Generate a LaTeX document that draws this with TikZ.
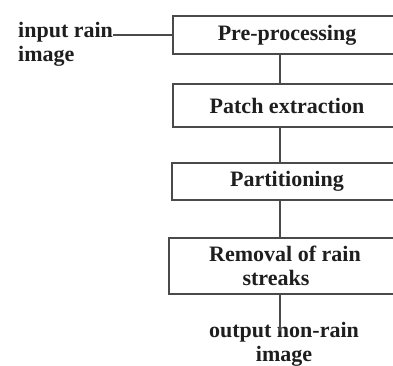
\documentclass[tikz,border=0pt]{standalone}
\usepackage{fontspec}
\setmainfont{Liberation Serif}
\definecolor{inkline}{HTML}{4A4A4A}
\definecolor{inktext}{HTML}{1E1E1E}
\begin{document}
\begin{tikzpicture}[x=1pt,y=1pt,
  every node/.style={text=inktext, font=\bfseries\fontsize{22}{24.5}\selectfont},
  stepbox/.style={draw=inkline, line width=1.5pt, rectangle, align=center, inner sep=0pt},
  label/.style={inner sep=0pt},
  link/.style={draw=inkline, line width=1.5pt}]
  \useasboundingbox (0,0) rectangle (393,-365);
  \clip (0,0) rectangle (393,-365);
  \fill[white] (0,0) rectangle (393,-365);

  % processing stages (their right sides run past the frame)
  \node[stepbox, minimum width=228, minimum height=38] (pre)   at (287,-35)    {Pre-processing};
  \node[stepbox, minimum width=228, minimum height=43] (patch) at (287,-105.5) {Patch extraction};
  \node[stepbox, minimum width=230, minimum height=37] (part)  at (287,-181.5) {Partitioning};
  \node[stepbox, minimum width=232, minimum height=56] (rem)   at (285,-266)   {Removal of rain\\[0pt]streaks\hspace*{18pt}};

  % input and output labels
  \node[label, align=left, anchor=north west] (in) at (18,-22) {input rain\\image};
  \node[label, align=center, anchor=north] (out) at (284,-322) {output non-rain\\image};

  % the spine joining the stages
  \coordinate (spine) at (280,0);
  \coordinate (outtop) at (280,-331);
  \draw[link] (in.east |- pre.west) -- (pre.west);
  \draw[link] (pre.south -| spine) -- (patch.north -| spine);
  \draw[link] (patch.south -| spine) -- (part.north -| spine);
  \draw[link] (part.south -| spine) -- (rem.north -| spine);
  \draw[link] (rem.south -| spine) -- (outtop);
\end{tikzpicture}
\end{document}
